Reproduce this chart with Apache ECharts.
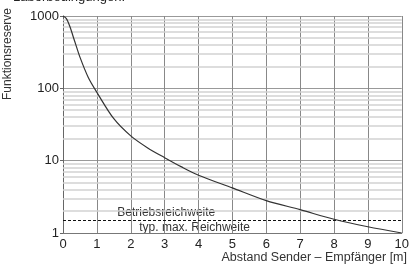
<!DOCTYPE html>
<html>
<head>
<meta charset="utf-8">
<script src="https://cdn.jsdelivr.net/npm/echarts@6/dist/echarts.min.js"></script>
<style>
html, body { margin: 0; padding: 0; background: #fff; }
#chart { width: 412px; height: 265px; }
</style>
</head>
<body>
<div id="chart"></div>
<script>
// Abstand [m] und Funktionsreserve
const distance = [0, 0.1, 0.2, 0.35, 0.5, 0.75, 1, 1.5, 2, 2.5, 3, 3.5, 4, 5, 6, 7, 8, 9, 10]
const reserve = [1000, 920, 720, 440, 270, 140, 88, 38, 22, 15, 11, 8.2, 6.3, 4.2, 2.8, 2.1, 1.55, 1.22, 1.0]
const minorLines = [2, 3, 4, 5, 6, 7, 8, 9, 20, 30, 40, 50, 60, 70, 80, 90, 200, 300, 400, 500, 600, 700, 800, 900]
const rangeLimit = 1.5
const labelFont = '"Liberation Sans", Arial, sans-serif'

const myChart = echarts.init(document.getElementById('chart'))
myChart.setOption({
  animation: false,
  grid: {
    left: 63,
    right: 5,
    top: 16,
    bottom: 32
  },
  xAxis: {
    type: 'value',
    min: 0,
    max: 10,
    interval: 1,
    axisLine: { show: true, lineStyle: { color: '#777', width: 1 } },
    axisTick: { show: false },
    axisLabel: { color: '#222', fontSize: 13, fontFamily: labelFont, margin: 5 },
    splitLine: { show: true, lineStyle: { color: '#888', width: 1 } }
  },
  yAxis: {
    type: 'log',
    logBase: 10,
    min: 1,
    max: 1000,
    axisLine: { show: true, onZero: false, lineStyle: { color: '#666', width: 1 } },
    axisTick: { show: true, length: 3, lineStyle: { color: '#666' } },
    axisLabel: {
      color: '#222',
      fontSize: 13,
      fontFamily: labelFont,
      margin: 4,
      formatter: v => String(Math.round(v))
    },
    splitLine: { show: true, lineStyle: { color: '#999', width: 1 } }
  },
  graphic: [
    {
      type: 'text',
      left: 13,
      top: -9,
      style: { text: 'Laborbedingungen:', fontSize: 13, fontFamily: labelFont, fill: '#222' }
    },
    {
      type: 'text',
      x: 8,
      y: 54,
      rotation: Math.PI / 2,
      style: {
        text: 'Funktionsreserve',
        fontSize: 12,
        fontFamily: labelFont,
        fill: '#333',
        align: 'center',
        verticalAlign: 'middle'
      }
    },
    {
      type: 'text',
      right: 5,
      top: 251,
      style: { text: 'Abstand Sender – Empfänger [m]', fontSize: 12.5, fontFamily: labelFont, fill: '#333' }
    }
  ],
  series: [
    {
      type: 'line',
      data: [],
      z: 1,
      silent: true,
      markLine: {
        silent: true,
        symbol: 'none',
        label: { show: false },
        lineStyle: { color: '#d2d2d2', type: 'solid', width: 1.5 },
        data: minorLines.map(v => ({ yAxis: v }))
      }
    },
    {
      type: 'line',
      data: distance.map((d, i) => [d, reserve[i]]),
      smooth: 0.3,
      showSymbol: false,
      z: 5,
      lineStyle: { color: '#333', width: 1.2 },
      markLine: {
        silent: true,
        symbol: 'none',
        lineStyle: { color: '#111', type: [3, 2], width: 1 },
        label: { show: false },
        data: [{ yAxis: rangeLimit }]
      }
    }
  ]
})

// Beschriftung der Reichweitenlinie
const p = myChart.convertToPixel({ gridIndex: 0 }, [1.6, rangeLimit])
myChart.setOption({
  graphic: [
    {},
    {},
    {},
    {
      type: 'text',
      x: p[0],
      y: p[1] - 8,
      style: { text: 'Betriebsreichweite', fontSize: 12, fontFamily: labelFont, fill: '#333', verticalAlign: 'middle' }
    },
    {
      type: 'text',
      x: p[0] + 22,
      y: p[1] + 7,
      style: { text: 'typ. max. Reichweite', fontSize: 12, fontFamily: labelFont, fill: '#333', verticalAlign: 'middle' }
    }
  ]
})
</script>
</body>
</html>
